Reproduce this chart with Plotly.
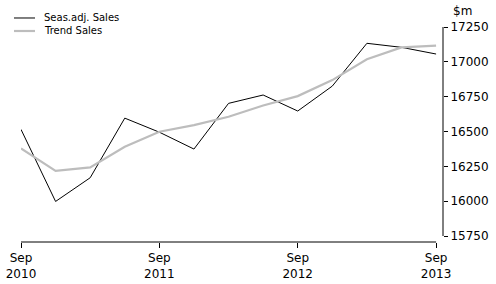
import plotly.graph_objects as go

quarters = ["Sep 2010", "Dec 2010", "Mar 2011", "Jun 2011", "Sep 2011", "Dec 2011",
            "Mar 2012", "Jun 2012", "Sep 2012", "Dec 2012", "Mar 2013", "Jun 2013", "Sep 2013"]
seas_adj = [16515, 15998, 16168, 16596, 16495, 16374, 16702, 16762, 16647, 16826, 17133, 17104, 17056]
trend = [16378, 16218, 16242, 16390, 16498, 16546, 16606, 16687, 16754, 16869, 17018, 17104, 17116]
tick_idx = [0, 4, 8, 12]
tick_text = ["Sep<br>2010", "Sep<br>2011", "Sep<br>2012", "Sep<br>2013"]
y_ticks = [15750, 16000, 16250, 16500, 16750, 17000, 17250]
series_names = ["Seas.adj. Sales", "Trend Sales"]
series_colors = ["#000000", "#bdbdbd"]
series_widths = [1, 2.2]

x = list(range(len(quarters)))
FONT = "DejaVu Sans"

fig = go.Figure()
for vals, name, col, w in zip([seas_adj, trend], series_names, series_colors, series_widths):
    fig.add_trace(go.Scatter(x=x, y=vals, mode="lines", name=name,
                             line=dict(color=col, width=w), text=quarters,
                             showlegend=False))

shapes = [
    dict(type="line", xref="x", yref="paper", x0=0, x1=12, y0=0, y1=0,
         line=dict(color="#000000", width=1)),
    dict(type="line", xref="paper", yref="y", x0=1, x1=1, y0=y_ticks[0], y1=y_ticks[-1],
         line=dict(color="#000000", width=1)),
]
annotations = [
    dict(text="$m", xref="paper", yref="paper", x=1.047, y=1.074,
         xanchor="center", yanchor="middle", showarrow=False,
         font=dict(family=FONT, size=12)),
]
# manual legend
leg_y = [1.0419, 0.9814]
for name, col, w, ly in zip(series_names, series_colors, series_widths, leg_y):
    shapes.append(dict(type="line", xref="paper", yref="paper", x0=-0.0166, x1=0.0332,
                       y0=ly, y1=ly, line=dict(color=col, width=w)))
    annotations.append(dict(text=name, xref="paper", yref="paper", x=0.0498, y=ly,
                            xanchor="left", yanchor="middle", showarrow=False,
                            font=dict(family=FONT, size=10)))

fig.update_layout(
    width=496, height=284,
    margin=dict(l=21, r=53, t=27, b=42, autoexpand=False),
    paper_bgcolor="white", plot_bgcolor="white",
    font=dict(family=FONT, size=12, color="#000000"),
    showlegend=False,
    xaxis=dict(range=[0, 12.2], tickvals=tick_idx, ticktext=tick_text,
               showgrid=False, zeroline=False, showline=False, automargin=False,
               ticks="outside", ticklen=5, tickcolor="#000000",
               tickfont=dict(family=FONT, size=12)),
    yaxis=dict(side="right", range=[15707, 17250], tickvals=y_ticks,
               ticktext=[str(v) for v in y_ticks], automargin=False,
               showgrid=False, zeroline=False, showline=False,
               ticks="outside", ticklen=4, tickcolor="#000000",
               tickfont=dict(family=FONT, size=12)),
    shapes=shapes,
    annotations=annotations,
)

fig.write_html("out.html")
